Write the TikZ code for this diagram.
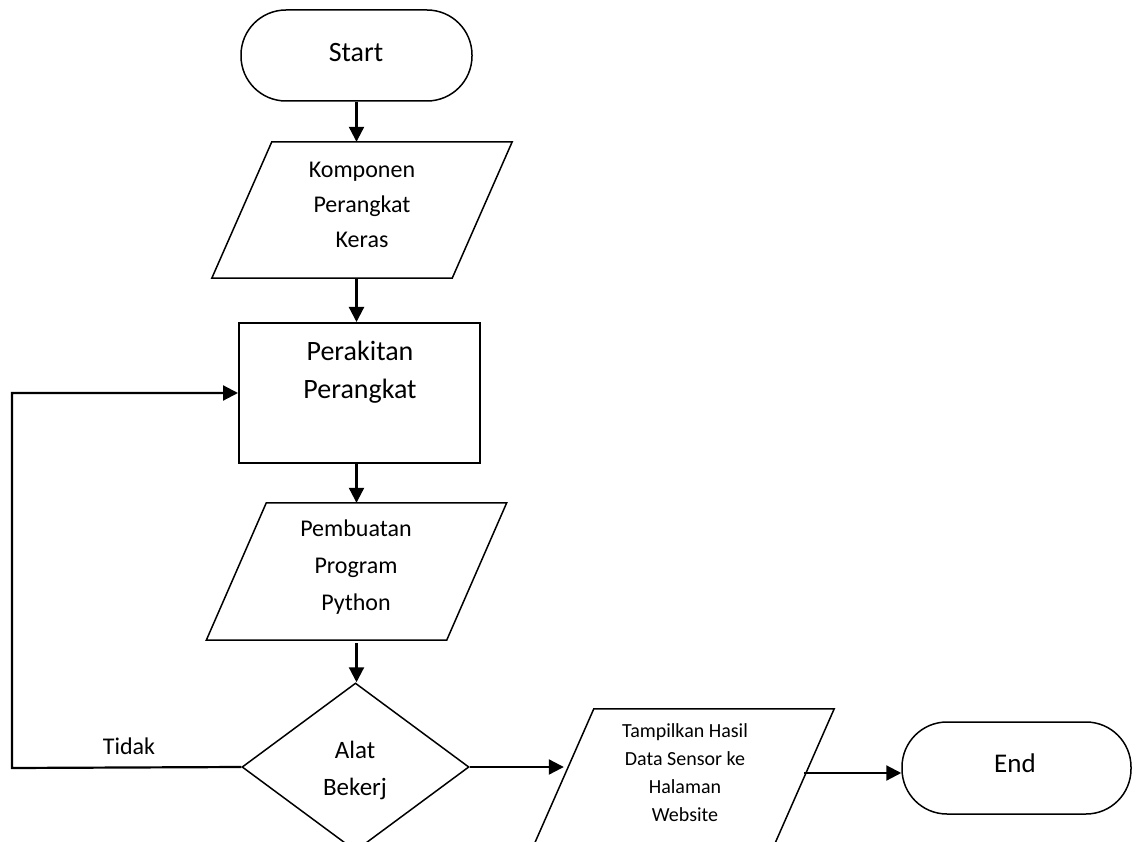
\documentclass[tikz,border=0pt]{standalone}
\usepackage{fontspec}
\setmainfont{Carlito}
\usetikzlibrary{shapes.geometric,arrows.meta}
\begin{document}
\begin{tikzpicture}[x=1pt,y=-1pt,
  border/.style={line width=1.5pt},
  arr/.style={line width=2.2pt,-{Triangle[length=15pt,width=15pt]}},
  term/.style={draw,line width=1.5pt,rounded corners=45pt,minimum width=231pt,minimum height=91pt,inner sep=0pt},
  procbox/.style={draw,line width=2pt,minimum width=241pt,minimum height=140pt,inner sep=0pt},
  iobox/.style={draw=none,minimum width=240pt,minimum height=136pt,inner sep=0pt},
  decis/.style={draw,diamond,line width=1.5pt,minimum width=227pt,minimum height=168pt,inner sep=0pt},
  txt/.style={align=center,inner sep=0pt}
]
\useasboundingbox (0,0) rectangle (1138,842);

% shapes
\node[term] (start) at (356.5,55.5) {};
\node[txt,font=\fontsize{28pt}{34pt}\selectfont] (startt) at (356,52.5) {Start};

\node[iobox] (komp) at (362,210) {};
\draw[border] ([xshift=30pt]komp.north west) -- ([xshift=30pt]komp.north east) -- ([xshift=-30pt]komp.south east) -- ([xshift=-30pt]komp.south west) -- cycle;
\node[txt,font=\fontsize{24pt}{35pt}\selectfont] (kompt) at (362,205) {Komponen\\Perangkat\\Keras};

\node[procbox] (perak) at (359.5,393) {};
\node[txt,font=\fontsize{28pt}{38pt}\selectfont] (perakt) at (360,372) {Perakitan\\Perangkat};

\node[iobox,minimum height=137pt] (pemb) at (356.5,571.5) {};
\draw[border] ([xshift=30pt]pemb.north west) -- ([xshift=30pt]pemb.north east) -- ([xshift=-30pt]pemb.south east) -- ([xshift=-30pt]pemb.south west) -- cycle;
\node[txt,font=\fontsize{24pt}{37pt}\selectfont] (pembt) at (356,567.5) {Pembuatan\\Program\\Python};

\node[decis] (dia) at (355.5,767) {};
\node[txt,font=\fontsize{25pt}{37pt}\selectfont] (diat) at (355,770) {Alat\\Bekerj};

\node[iobox] (tamp) at (684,777) {};
\draw[border] ([xshift=30pt]tamp.north west) -- ([xshift=30pt]tamp.north east) -- ([xshift=-30pt]tamp.south east) -- ([xshift=-30pt]tamp.south west) -- cycle;
\node[txt,font=\fontsize{20pt}{28pt}\selectfont] (tampt) at (685,773) {Tampilkan Hasil\\Data Sensor ke\\Halaman\\Website};

\node[term,minimum width=229pt,minimum height=92pt] (end) at (1016.5,768) {};
\node[txt,font=\fontsize{27pt}{32pt}\selectfont] (endt) at (1015,763.5) {End};

\node[txt,font=\fontsize{24pt}{30pt}\selectfont] (tidak) at (129,746) {Tidak};

% connectors
\draw[arr] (start.south) -- (start.south |- komp.north);
\draw[arr] (start.south |- komp.south) -- (start.south |- perak.north);
\draw[arr] (start.south |- perak.south) -- (start.south |- pemb.north);
\draw[arr] ([yshift=-3pt]start.south |- pemb.south) -- (start.south |- dia.north);
\coordinate (lp) at (12,768);
\draw[arr] (dia.west) -- (lp) |- (perak.west);
\draw[arr] (dia.east) -- (dia.east -| tamp.west);
\draw[arr] ([yshift=4pt]tamp.east) -- ([yshift=4pt]tamp.east -| end.west);
\end{tikzpicture}
\end{document}
